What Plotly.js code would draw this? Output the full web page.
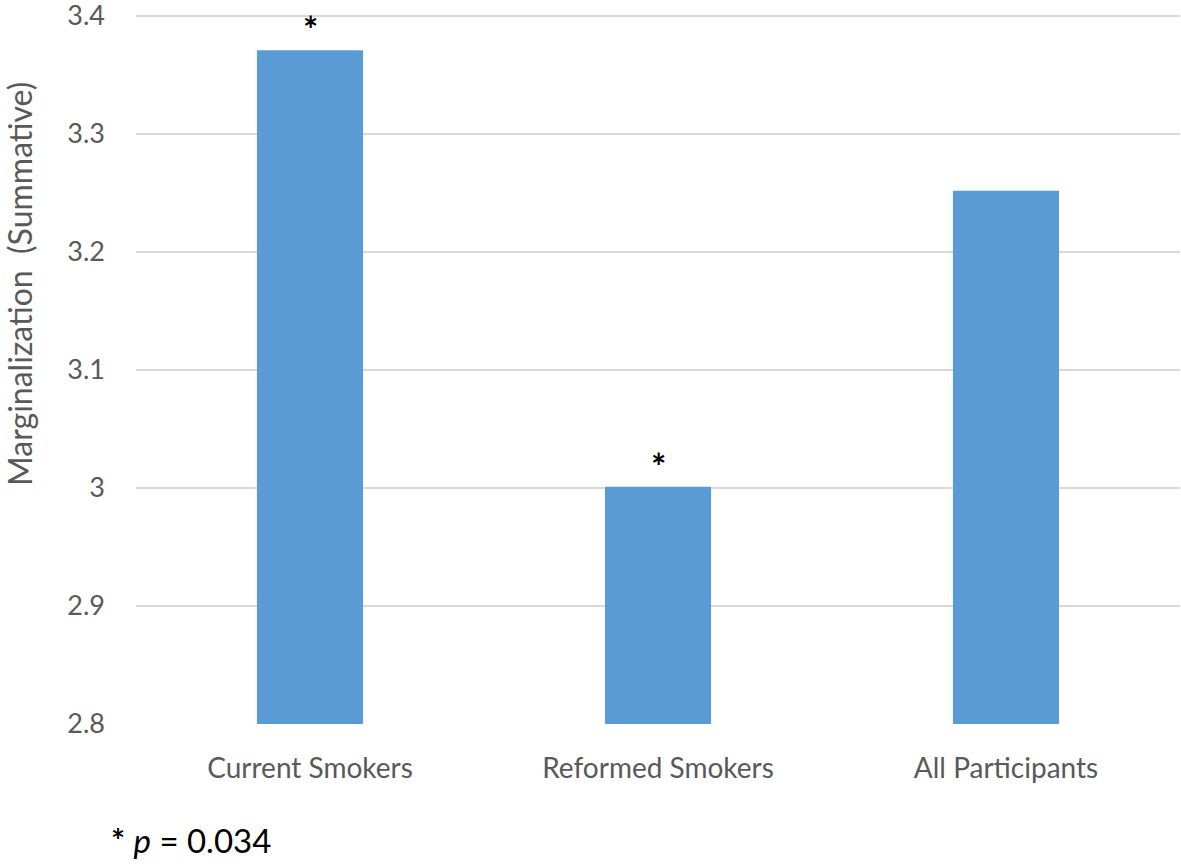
<!DOCTYPE html>
<html>
<head>
<meta charset="utf-8">
<script src="https://cdn.plot.ly/plotly-3.0.1.min.js"></script>
<style>html,body{margin:0;padding:0;background:#fff;}#chart{width:1181px;height:864px;}</style>
</head>
<body>
<div id="chart"></div>
<script>
const categories = ["Current Smokers", "Reformed Smokers", "All Participants"];
const values = [3.371, 3.001, 3.252];
const markers = ["*", "*", ""];
const yTickVals = [2.8, 2.9, 3.0, 3.1, 3.2, 3.3, 3.4];
const yTickText = ["2.8", "2.9", "3", "3.1", "3.2", "3.3", "3.4"];
const footnote = "<b>*</b> <i>p</i> = 0.034";
const yTitle = "Marginalization&nbsp; (Summative)";

const font = "Lato, 'Open Sans', sans-serif";
const base = 2.8;

const trace = {
  type: "bar",
  x: categories,
  y: values.map(v => v - base),
  base: base,
  marker: {color: "#5B9BD5"},
  width: 0.305,
  hoverinfo: "x+y"
};

const annotations = categories.map((c, i) => ({
  x: c, y: values[i], xref: "x", yref: "y",
  text: markers[i] ? "<b>" + markers[i] + "</b>" : "",
  showarrow: false, yanchor: "bottom", yshift: -3,
  font: {family: font, size: 36, color: "#000"}
})).filter(a => a.text);

annotations.push({
  xref: "paper", yref: "paper", x: -0.026, y: -0.163,
  xanchor: "left", yanchor: "middle",
  text: footnote, showarrow: false,
  font: {family: font, size: 33, color: "#000"}
});

annotations.push({
  xref: "paper", yref: "paper", x: -0.111, y: 0.62,
  xanchor: "center", yanchor: "middle", textangle: -90,
  text: yTitle, showarrow: false,
  font: {family: font, size: 32, color: "#595959"}
});

const layout = {
  width: 1181, height: 864,
  margin: {l: 136, r: 1, t: 14, b: 140},
  paper_bgcolor: "#fff", plot_bgcolor: "#fff",
  showlegend: false,
  font: {family: font, color: "#595959"},
  xaxis: {
    type: "category",
    showgrid: false, zeroline: false, showline: false,
    ticks: "", tickfont: {family: font, size: 28, color: "#595959"},
    ticklabelstandoff: 25
  },
  yaxis: {
    range: [2.8, 3.4017],
    tickvals: yTickVals, ticktext: yTickText,
    showgrid: true, gridcolor: "#D9D9D9", gridwidth: 2,
    zeroline: false, showline: false, ticks: "",
    tickfont: {family: font, size: 27, color: "#595959"},
    ticklabelstandoff: 30, ticklabeloverflow: "allow"
  },
  annotations: annotations
};

Plotly.newPlot("chart", [trace], layout, {displayModeBar: false, staticPlot: true});
</script>
</body>
</html>
